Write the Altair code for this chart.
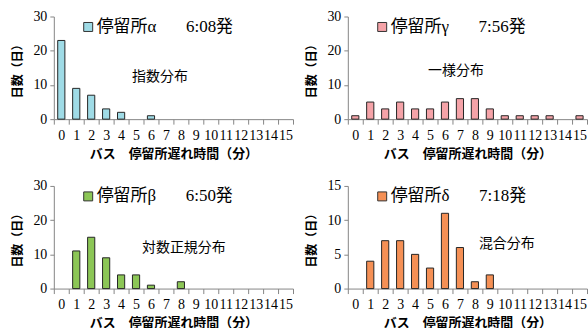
import altair as alt
import pandas as pd

minutes = list(range(16))
alpha_days = [23, 9, 7, 3, 2, 0, 1, 0, 0, 0, 0, 0, 0, 0, 0, 0]
gamma_days = [1, 5, 3, 5, 3, 3, 5, 6, 6, 3, 1, 1, 1, 1, 0, 1]
beta_days = [0, 11, 15, 9, 4, 4, 1, 0, 2, 0, 0, 0, 0, 0, 0, 0]
delta_days = [0, 4, 7, 7, 5, 3, 11, 6, 1, 2, 0, 0, 0, 0, 0, 0]

labels = ["停留所α\u3000\u00a0\u00a0\u00a06:08発", "停留所γ\u3000\u00a0\u00a0\u00a07:56発",
          "停留所β\u3000\u00a0\u00a0\u00a06:50発", "停留所δ\u3000\u00a0\u00a0\u00a07:18発"]
notes = ["指数分布", "一様分布", "対数正規分布", "混合分布"]
colors = ["#9fdbe6", "#f5a3a8", "#8cc656", "#f59055"]

X_TITLE = "バス\u3000停留所遅れ時間（分）"
Y_TITLE = "日数（日）"
SERIF = "'Liberation Serif', 'Times New Roman', Times, serif"
GOTHIC = "'Noto Sans CJK JP', sans-serif"


def panel(days, label, color, ymax, ystep, note, note_m, note_d, note_dx):
    df = pd.DataFrame({"m": minutes, "d": days, "s": [label] * len(minutes)})
    xscale = alt.Scale(domain=minutes, paddingInner=0, paddingOuter=0)
    yscale = alt.Scale(domain=[0, ymax], nice=False)
    xaxis = alt.Axis(title=X_TITLE, labelAngle=0, tickBand="extent", tickSize=5,
                     labelPadding=4, labelOverlap=False, titleFontSize=13, titlePadding=5)
    yaxis = alt.Axis(title=Y_TITLE, values=list(range(0, ymax + 1, ystep)),
                     tickSize=4, labelPadding=3, grid=False, titleFontSize=12,
                     titlePadding=8, labelOverlap=False)
    bars = alt.Chart(df).transform_filter("datum.d > 0").mark_bar(
        width=alt.RelativeBandSize(0.48), stroke="#262626", strokeWidth=1
    ).encode(
        x=alt.X("m:O", scale=xscale, axis=xaxis),
        y=alt.Y("d:Q", scale=yscale, axis=yaxis),
        color=alt.Color("s:N", scale=alt.Scale(domain=[label], range=[color]),
                        legend=alt.Legend(orient="none", legendX=26, legendY=2, title=None,
                                          symbolType="square", symbolSize=81,
                                          symbolStrokeColor="#333", symbolStrokeWidth=1,
                                          labelFont="'Liberation Serif', 'Noto Sans CJK JP', serif",
                                          labelFontSize=17, labelOffset=0, padding=0,
                                          labelLimit=400)),
    )
    ndf = pd.DataFrame({"m": [note_m], "d": [note_d], "t": [note]})
    txt = alt.Chart(ndf).mark_text(font=GOTHIC, fontSize=14, dx=note_dx, color="#000").encode(
        x=alt.X("m:O", scale=xscale, axis=xaxis), y=alt.Y("d:Q", scale=yscale, axis=yaxis), text="t:N"
    )
    return alt.layer(bars, txt).properties(width=240, height=103)


p_alpha = panel(alpha_days, labels[0], colors[0], 30, 10, notes[0], 7, 12.2, -6)
p_gamma = panel(gamma_days, labels[1], colors[1], 30, 10, notes[1], 6, 14, 11)
p_beta = panel(beta_days, labels[2], colors[2], 30, 10, notes[2], 8, 12, 3)
p_delta = panel(delta_days, labels[3], colors[3], 15, 5, notes[3], 11, 6.5, -13)

top = alt.hconcat(p_alpha, p_gamma, spacing=12).resolve_scale(color="independent", y="independent")
bottom = alt.hconcat(p_beta, p_delta, spacing=12).resolve_scale(color="independent", y="independent")

chart = alt.vconcat(top, bottom, spacing=19).resolve_scale(color="independent", y="independent").properties(
    padding={"left": 12, "top": 9, "right": 0, "bottom": 0},
    background="white",
).configure_view(stroke=None).configure_axis(
    domainColor="#868686", tickColor="#868686", labelFont=SERIF, labelFontSize=14,
    labelColor="#000", titleFont=GOTHIC, titleFontWeight="bold", titleColor="#000",
)

chart.save("out.html", embed_options={"renderer": "svg", "actions": False})
